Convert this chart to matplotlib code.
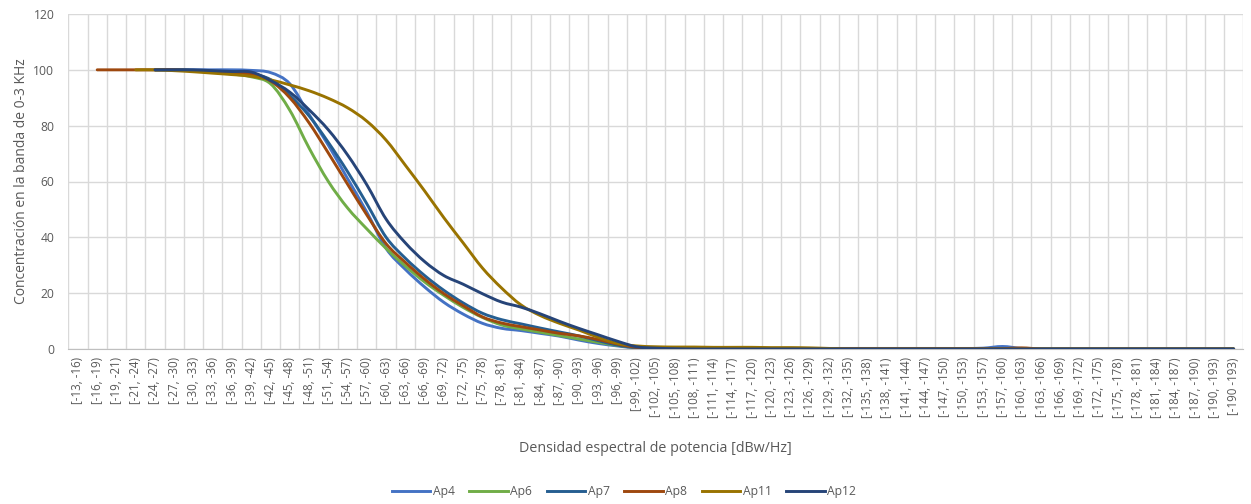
import numpy as np
import matplotlib
matplotlib.use("Agg")
import matplotlib.pyplot as plt
from matplotlib.path import Path
from matplotlib.patches import PathPatch
from matplotlib.lines import Line2D
from matplotlib.ticker import FixedLocator

plt.rcParams['font.family'] = ['Open Sans', 'DejaVu Sans']

nan = np.nan

# Power spectral density bins (category axis)
categories = [
    "[-13, -16)", "[-16, -19)", "[-19, -21)", "[-21, -24)", "[-24, -27)",
    "[-27, -30)", "[-30, -33)", "[-33, -36)", "[-36, -39)", "[-39, -42)",
    "[-42, -45)", "[-45, -48)", "[-48, -51)", "[-51, -54)", "[-54, -57)",
    "[-57, -60)", "[-60, -63)", "[-63, -66)", "[-66, -69)", "[-69, -72)",
    "[-72, -75)", "[-75, -78)", "[-78, -81)", "[-81, -84)", "[-84, -87)",
    "[-87, -90)", "[-90, -93)", "[-93, -96)", "[-96, -99)", "[-99, -102)",
    "[-102, -105)", "[-105, -108)", "[-108, -111)", "[-111, -114)", "[-114, -117)",
    "[-117, -120)", "[-120, -123)", "[-123, -126)", "[-126, -129)", "[-129, -132)",
    "[-132, -135)", "[-135, -138)", "[-138, -141)", "[-141, -144)", "[-144, -147)",
    "[-147, -150)", "[-150, -153)", "[-153, -157)", "[-157, -160)", "[-160, -163)",
    "[-163, -166)", "[-166, -169)", "[-169, -172)", "[-172, -175)", "[-175, -178)",
    "[-178, -181)", "[-181, -184)", "[-184, -187)", "[-187, -190)", "[-190, -193)",
    "[-190 -193)",
]

# Concentration in the 0-3 kHz band (%) per bin
ap4 = [nan, nan, nan, nan, 100, 100, 100, 100, 100, 99.8,
       99.0, 95.0, 84.0, 73.0, 61.0, 49.0, 36.0, 28.5, 22.2, 16.7,
       12.5, 9.2, 7.4, 6.6, 5.6, 4.6, 3.2, 2.0, 1.1, 0.4,
       0.2, 0.2, 0.2, 0.2, 0.2, 0.2, 0.2, 0.2, 0.2, 0.2,
       0.2, 0.2, 0.2, 0.2, 0.2, 0.2, 0.2, 0.3, 0.9, 0.2,
       0, 0, 0, 0, 0, 0, 0, 0, 0, 0, 0]
ap6 = [nan, nan, nan, nan, 100, 100, 99.7, 99.2, 98.5, 97.5,
       95.0, 85.5, 72.0, 60.0, 50.5, 43.0, 36.0, 29.7, 24.0, 19.2,
       14.9, 11.3, 8.6, 7.2, 6.0, 4.8, 3.6, 2.4, 1.3, 0.5,
       0.2, 0.1, 0.1, 0.1, 0, 0, 0, 0, 0, 0,
       0, 0, 0, 0, 0, 0, 0, 0, 0, 0,
       0, 0, 0, 0, 0, 0, 0, 0, 0, 0, 0]
ap7 = [nan, nan, nan, nan, 100, 100, 99.8, 99.5, 99.0, 98.6,
       96.5, 90.8, 83.5, 74.0, 63.5, 52.0, 40.0, 32.5, 26.3, 21.0,
       16.5, 12.8, 10.5, 9.0, 7.5, 6.1, 4.7, 3.0, 1.4, 0.5,
       0.3, 0.2, 0.1, 0.1, 0, 0, 0, 0, 0, 0,
       0, 0, 0, 0, 0, 0, 0, 0, 0, 0,
       0, 0, 0, 0, 0, 0, 0, 0, 0, 0, 0]
ap8 = [nan, 100, 100, 100, 100, 100, 99.7, 99.3, 98.8, 98.4,
       96.0, 90.0, 81.0, 70.2, 59.0, 48.0, 37.7, 31.0, 25.0, 19.8,
       15.5, 11.5, 9.3, 8.0, 6.8, 5.6, 4.7, 3.4, 1.8, 0.6,
       0.3, 0.2, 0.1, 0.1, 0.1, 0.1, 0.1, 0.1, 0.1, 0.1,
       0.1, 0.1, 0.1, 0.1, 0.1, 0.1, 0.1, 0.1, 0.1, 0.4,
       0, 0, 0, 0, 0, 0, 0, 0, 0, 0, 0]
ap11 = [nan, nan, nan, 100, 100, 99.7, 99.3, 98.8, 98.3, 97.7,
        96.4, 94.6, 92.5, 89.8, 86.4, 81.6, 74.8, 65.8, 56.6, 47.0,
        38.0, 29.0, 21.8, 15.8, 12.0, 9.2, 6.8, 4.2, 2.0, 1.1,
        0.8, 0.7, 0.7, 0.6, 0.6, 0.6, 0.5, 0.5, 0.4, 0.2,
        0, 0, 0, 0, 0, 0, 0, 0, 0, 0,
        0, 0, 0, 0, 0, 0, 0, 0, 0, 0, 0]
ap12 = [nan, nan, nan, nan, 100, 100, 100, 99.7, 99.4, 99.2,
        96.2, 92.0, 85.7, 78.5, 69.5, 58.8, 46.5, 38.0, 31.3, 26.3,
        23.2, 19.8, 16.8, 15.0, 12.6, 9.9, 7.4, 5.1, 2.8, 0.8,
        0.3, 0.1, 0, 0, 0, 0, 0, 0, 0, 0,
        0, 0, 0, 0, 0, 0, 0, 0, 0, 0,
        0, 0, 0, 0, 0, 0, 0, 0, 0, 0, 0]

series_names = ["Ap4", "Ap6", "Ap7", "Ap8", "Ap11", "Ap12"]
series_values = [ap4, ap6, ap7, ap8, ap11, ap12]
colors = ["#4472C4", "#70AD47", "#255E91", "#9E480E", "#997300", "#264478"]


def smooth_path(xs, ys):
    """Catmull-Rom style cubic Bezier path through the given points."""
    pts = np.column_stack([xs, ys])
    n = len(pts)
    verts = [pts[0]]
    codes = [Path.MOVETO]
    for i in range(n - 1):
        p0 = pts[max(i - 1, 0)]
        p1 = pts[i]
        p2 = pts[i + 1]
        p3 = pts[min(i + 2, n - 1)]
        c1 = p1 + (p2 - p0) / 6.0
        c2 = p2 - (p3 - p1) / 6.0
        verts.extend([c1, c2, p2])
        codes.extend([Path.CURVE4] * 3)
    return Path(np.array(verts), codes)


W, H = 1251, 504
fig = plt.figure(figsize=(W / 100, H / 100), dpi=100)
ax = fig.add_axes([68.3 / W, 1 - 349 / H, (1243.3 - 68.3) / W, (349 - 14) / H])

text_color = "#595959"
grid_color = "#D9D9D9"

x = np.arange(len(categories))
handles = []
for name, vals, col in zip(series_names, series_values, colors):
    v = np.array(vals, dtype=float)
    ok = ~np.isnan(v)
    path = smooth_path(x[ok].astype(float), v[ok])
    ax.add_patch(PathPatch(path, facecolor="none", edgecolor=col, lw=2.1,
                           capstyle="round", joinstyle="round", zorder=3))
    handles.append(Line2D([], [], color=col, lw=2.1))

ax.set_xlim(-0.5, len(categories) - 0.5)
ax.set_ylim(0, 120)
ax.set_yticks(np.arange(0, 121, 20))
ax.set_xticks(x)
ax.set_xticklabels(categories, rotation=90, fontsize=8.3, color=text_color)
ax.xaxis.set_minor_locator(FixedLocator(np.arange(-0.5, len(categories) + 0.5, 1)))
ax.grid(True, which="minor", axis="x", color=grid_color, lw=1)
ax.grid(True, which="major", axis="y", color=grid_color, lw=1)
ax.set_axisbelow(True)
ax.tick_params(axis="both", which="both", length=0)
ax.tick_params(axis="x", pad=6)
ax.tick_params(axis="y", pad=10, labelsize=8.7, labelcolor=text_color)
for s in ["top", "right", "left"]:
    ax.spines[s].set_visible(False)
ax.spines["bottom"].set_color("#BFBFBF")

ax.set_ylabel("Concentración en la banda de 0-3 KHz", fontsize=10, color=text_color, labelpad=3)
fig.text(655 / W, 1 - 448 / H, "Densidad espectral de potencia [dBw/Hz]",
         ha="center", va="center", fontsize=10.3, color=text_color)

fig.legend(handles, series_names, loc="center", bbox_to_anchor=(624 / W, 1 - 492 / H),
           ncol=6, frameon=False, fontsize=8.7, handlelength=3.2, handletextpad=0.2,
           columnspacing=1.2, labelcolor=text_color)

fig.savefig("out.png", dpi=100)
